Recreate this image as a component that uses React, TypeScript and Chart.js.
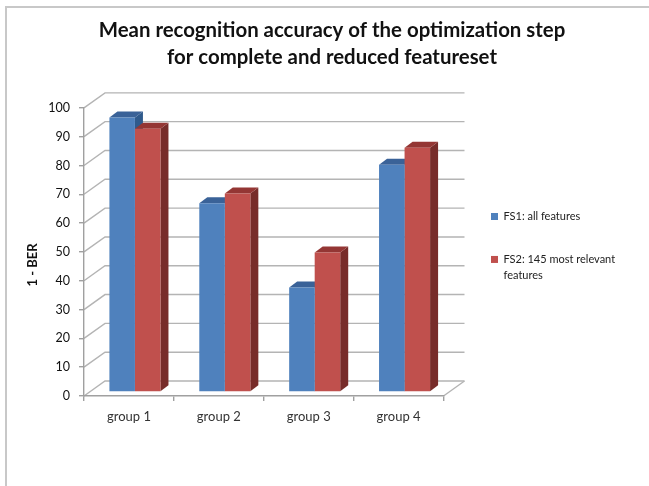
import React, { useEffect, useRef } from "react";
import { Chart, registerables } from "chart.js";

Chart.register(...registerables);

const categories = ["group 1", "group 2", "group 3", "group 4"];
const fs1Values = [95.3, 65.5, 36.3, 78.9];
const fs2Values = [91.4, 68.9, 48.4, 84.8];
const seriesNames = ["FS1: all features", "FS2: 145 most relevant features"];
const legendLines = [["FS1: all features"], ["FS2: 145 most relevant", "features"]];
const titleLines = ["Mean recognition accuracy of the optimization step", "for complete and reduced featureset"];
const yTitle = "1 - BER";

const FONT = "Lato, 'Open Sans', sans-serif";
const sideColors = ["#2f5a8c", "#772c2a"];
const topColors = ["#3a6298", "#943634"];
const WALL_DX = 21;
const WALL_DY = 15;
const BAR_DX = 6;
const BAR_DY = 4;
const BAR_DEPTH_X = 8;
const BAR_DEPTH_Y = 6;
const GRID = "#b4b4b4";

const scene3d = {
  id: "scene3d",
  afterLayout(chart: any) {
    const t = chart.titleBlock;
    t.left = 15;
    t.right = 649;
    const l = chart.legend;
    l.left = 464;
    l.right = 640;
    l.top = 184;
    l.bottom = 342;
    const s = chart.scales.y;
    if (!s.__shifted) {
      s.__shifted = true;
      const orig = s.drawTitle.bind(s);
      s.drawTitle = (...a: any[]) => {
        chart.ctx.save();
        chart.ctx.translate(0, 13);
        orig(...a);
        chart.ctx.restore();
      };
    }
  },
  beforeDraw(chart: any) {
    const { ctx, scales } = chart;
    const y = scales.y;
    const left = scales.x.left;
    const right = scales.x.right;
    ctx.save();
    ctx.fillStyle = "#ffffff";
    ctx.fillRect(0, 0, chart.width, chart.height);
    ctx.strokeStyle = "#c8c8c8";
    ctx.lineWidth = 2;
    ctx.beginPath();
    ctx.moveTo(6, chart.height);
    ctx.lineTo(6, 7);
    ctx.lineTo(chart.width, 7);
    ctx.stroke();
    ctx.strokeStyle = GRID;
    ctx.lineWidth = 1.4;
    y.ticks.forEach((t: any) => {
      const py = y.getPixelForValue(t.value);
      ctx.beginPath();
      ctx.moveTo(left, py);
      ctx.lineTo(left + WALL_DX, py - WALL_DY);
      ctx.lineTo(right + WALL_DX, py - WALL_DY);
      ctx.stroke();
    });
    const py0 = y.getPixelForValue(0);
    ctx.beginPath();
    ctx.moveTo(right, py0);
    ctx.lineTo(right + WALL_DX, py0 - WALL_DY);
    ctx.stroke();
    ctx.restore();
  },
  beforeDatasetsDraw(chart: any) {
    const { ctx } = chart;
    ctx.save();
    ctx.translate(BAR_DX, -BAR_DY);
    [0, 1].forEach((i) => {
      chart.getDatasetMeta(i).data.forEach((bar: any) => {
        const l = bar.x - bar.width / 2;
        const r = bar.x + bar.width / 2;
        const t = bar.y;
        const b = bar.base;
        ctx.fillStyle = sideColors[i];
        ctx.beginPath();
        ctx.moveTo(r, t);
        ctx.lineTo(r + BAR_DEPTH_X, t - BAR_DEPTH_Y);
        ctx.lineTo(r + BAR_DEPTH_X, b - BAR_DEPTH_Y);
        ctx.lineTo(r, b);
        ctx.closePath();
        ctx.fill();
        ctx.fillStyle = topColors[i];
        ctx.beginPath();
        ctx.moveTo(l, t);
        ctx.lineTo(l + BAR_DEPTH_X, t - BAR_DEPTH_Y);
        ctx.lineTo(r + BAR_DEPTH_X, t - BAR_DEPTH_Y);
        ctx.lineTo(r, t);
        ctx.closePath();
        ctx.fill();
      });
    });
  },
  afterDatasetsDraw(chart: any) {
    chart.ctx.restore();
  },
};

export default function App() {
  const ref = useRef<HTMLCanvasElement>(null);
  useEffect(() => {
    const chart = new Chart(ref.current as HTMLCanvasElement, {
      type: "bar",
      data: {
        labels: categories,
        datasets: [
          { label: seriesNames[0], data: fs1Values, backgroundColor: "#4f81bd" },
          { label: seriesNames[1], data: fs2Values, backgroundColor: "#c0504d" },
        ],
      },
      plugins: [scene3d],
      options: {
        responsive: false,
        animation: false,
        layout: { padding: { left: 25, right: 66, top: 17, bottom: 56 } },
        datasets: { bar: { barPercentage: 1, categoryPercentage: 0.568 } },
        plugins: {
          tooltip: { enabled: false },
          title: {
            display: true,
            text: titleLines,
            color: "#111111",
            font: { family: FONT, size: 20.4, weight: "bold", lineHeight: 1.32 },
            padding: { top: 0, bottom: 37 },
          },
          legend: {
            display: true,
            position: "right",
            align: "start",
            labels: {
              boxWidth: 7,
              boxHeight: 7,
              padding: 27,
              color: "#222222",
              font: { family: FONT, size: 11, lineHeight: 1.45 },
              generateLabels: (chart: any) =>
                Chart.defaults.plugins.legend.labels.generateLabels(chart).map((it: any, i: number) => ({
                  ...it,
                  text: legendLines[i],
                  lineWidth: 0,
                })),
            },
          },
        },
        scales: {
          x: {
            afterFit: (s: any) => { s.height = 34; },
            grid: { drawOnChartArea: false, tickLength: 5, color: "#a0a0a0", lineWidth: 1.4 },
            border: { color: "#a0a0a0", width: 1.4 },
            ticks: { color: "#333333", padding: 8, font: { family: FONT, size: 13 } },
          },
          y: {
            min: 0,
            max: 100,
            afterFit: (s: any) => { s.width = 59; },
            grid: { drawOnChartArea: false, tickLength: 5, color: "#a0a0a0", lineWidth: 1.4 },
            border: { color: "#a0a0a0", width: 1.4 },
            ticks: { stepSize: 10, color: "#111111", padding: 9, font: { family: FONT, size: 12.5 } },
            title: {
              display: true,
              text: yTitle,
              color: "#111111",
              font: { family: FONT, size: 13, weight: "bold" },
              padding: { top: 0, bottom: 4 },
            },
          },
        },
      } as any,
    });
    return () => chart.destroy();
  }, []);
  return (
    <div style={{ position: "absolute", left: 0, top: 0 }}>
      <canvas ref={ref} width={649} height={486} style={{ display: "block", filter: "blur(0.4px)" }} />
    </div>
  );
}
